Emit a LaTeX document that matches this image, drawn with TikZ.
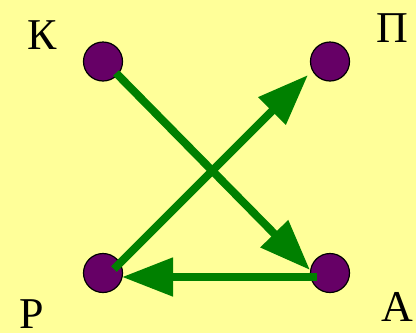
\documentclass[tikz,border=0pt]{standalone}
\usepackage{fontspec}
\setmainfont{Liberation Serif}
\usetikzlibrary{arrows.meta,calc}
\definecolor{bgyellow}{HTML}{FFFF99}
\definecolor{dotpurple}{HTML}{660066}
\definecolor{arrowgreen}{HTML}{008000}
\begin{document}
\begin{tikzpicture}[x=1pt,y=-1pt,
  dot/.style={circle,draw=black,line width=1.2pt,fill=dotpurple,minimum size=39pt,inner sep=0pt},
  lbl/.style={inner sep=0pt,font=\fontsize{44}{44}\selectfont},
  arr/.style={draw=arrowgreen,line width=8pt,line cap=butt,
    -{Triangle[length=51pt,width=37pt,fill=arrowgreen]}}]
\fill[bgyellow] (0,0) rectangle (416,333);
\useasboundingbox (0,0) rectangle (416,333);
\node[dot] (K) at (103,61.5) {};
\node[dot] (P) at (330,61.5) {};
\node[dot] (R) at (103,273) {};
\node[dot] (A) at (330,273) {};
\node[lbl] (lK) at (42.5,35) {К};
\node[lbl] (lP) at (392,28) {П};
\node[lbl] (lR) at (32,314) {Р};
\node[lbl] (lA) at (397,307) {А};
\draw[arr] ($(K)+(13,11.5)$) -- ($(A)+(-20,-3)$);
\draw[arr] ($(R)+(11,-4)$) -- ($(P)+(-22,13.5)$);
\draw[arr] ($(A)+(-13,4)$) -- ($(R)+(19,4)$);
\end{tikzpicture}
\end{document}
